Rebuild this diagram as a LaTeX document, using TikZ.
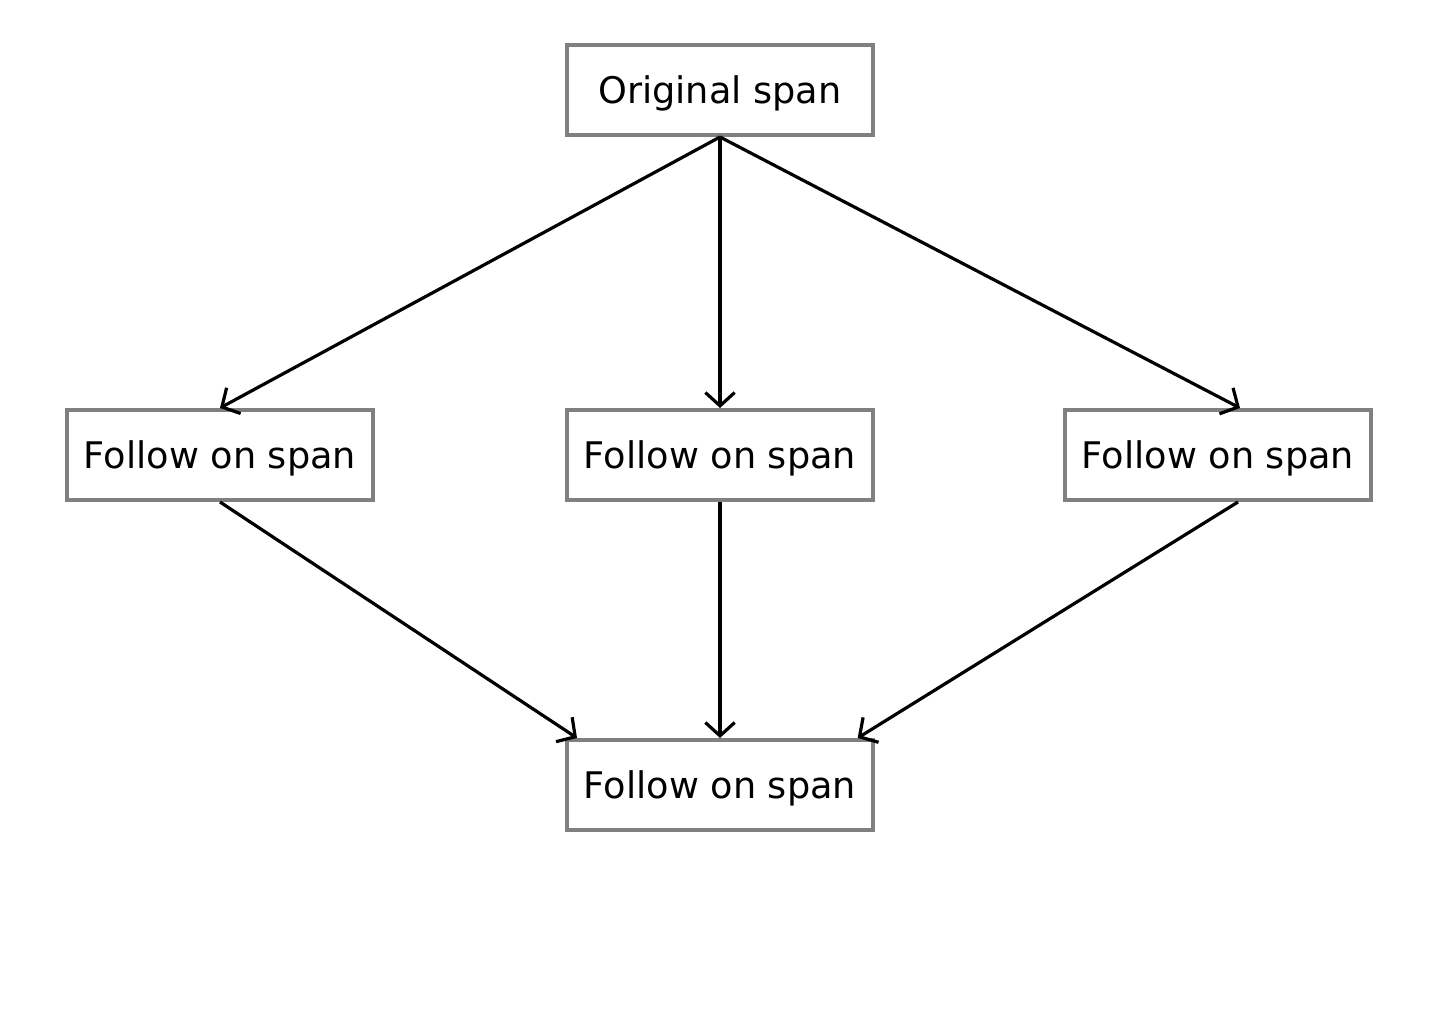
\documentclass[tikz,border=0pt]{standalone}
\usepackage{fontspec}
\setmainfont{DejaVu Sans}
\usetikzlibrary{arrows.meta}

\tikzset{every picture/.style={line width=0.75pt}}
\tikzset{
  spanbox/.style={draw={rgb, 255:red, 128; green, 128; blue, 128 }, line width=3pt, minimum width=229.5pt, minimum height=67.5pt, inner sep=0pt, text height=20pt, text depth=0pt, font=\fontsize{27.5}{32}\selectfont},
  spanarrow/.style={draw=black, line width=2.4pt, -{Straight Barb[length=10pt,width=22pt]}}
}

\begin{document}
\begin{tikzpicture}[x=0.75pt,y=0.75pt,yscale=-1,xscale=1]
		\useasboundingbox (0,0) rectangle (1440,1024);

		\node [spanbox] (orig) at (720,90) {Original span};
		\node [spanbox] (leftspan) at (220,455) {Follow on span};
		\node [spanbox] (midspan) at (720,455) {Follow on span};
		\node [spanbox] (rightspan) at (1218,455) {Follow on span};
		\node [spanbox] (lastspan) at (720,785) {Follow on span};

		\draw [spanarrow] (orig.south) -- (leftspan.north) ;
		\draw [spanarrow] (orig.south) -- (midspan.north) ;
		\draw [spanarrow] (orig.south) -- ([xshift=16.5pt]rightspan.north) ;
		\draw [spanarrow] (leftspan.south) -- ([xshift=9pt]lastspan.north west) ;
		\draw [spanarrow] (midspan.south) -- (lastspan.north) ;
		\draw [spanarrow] ([xshift=15pt]rightspan.south) -- ([xshift=-13pt]lastspan.north east) ;
\end{tikzpicture}
\end{document}
